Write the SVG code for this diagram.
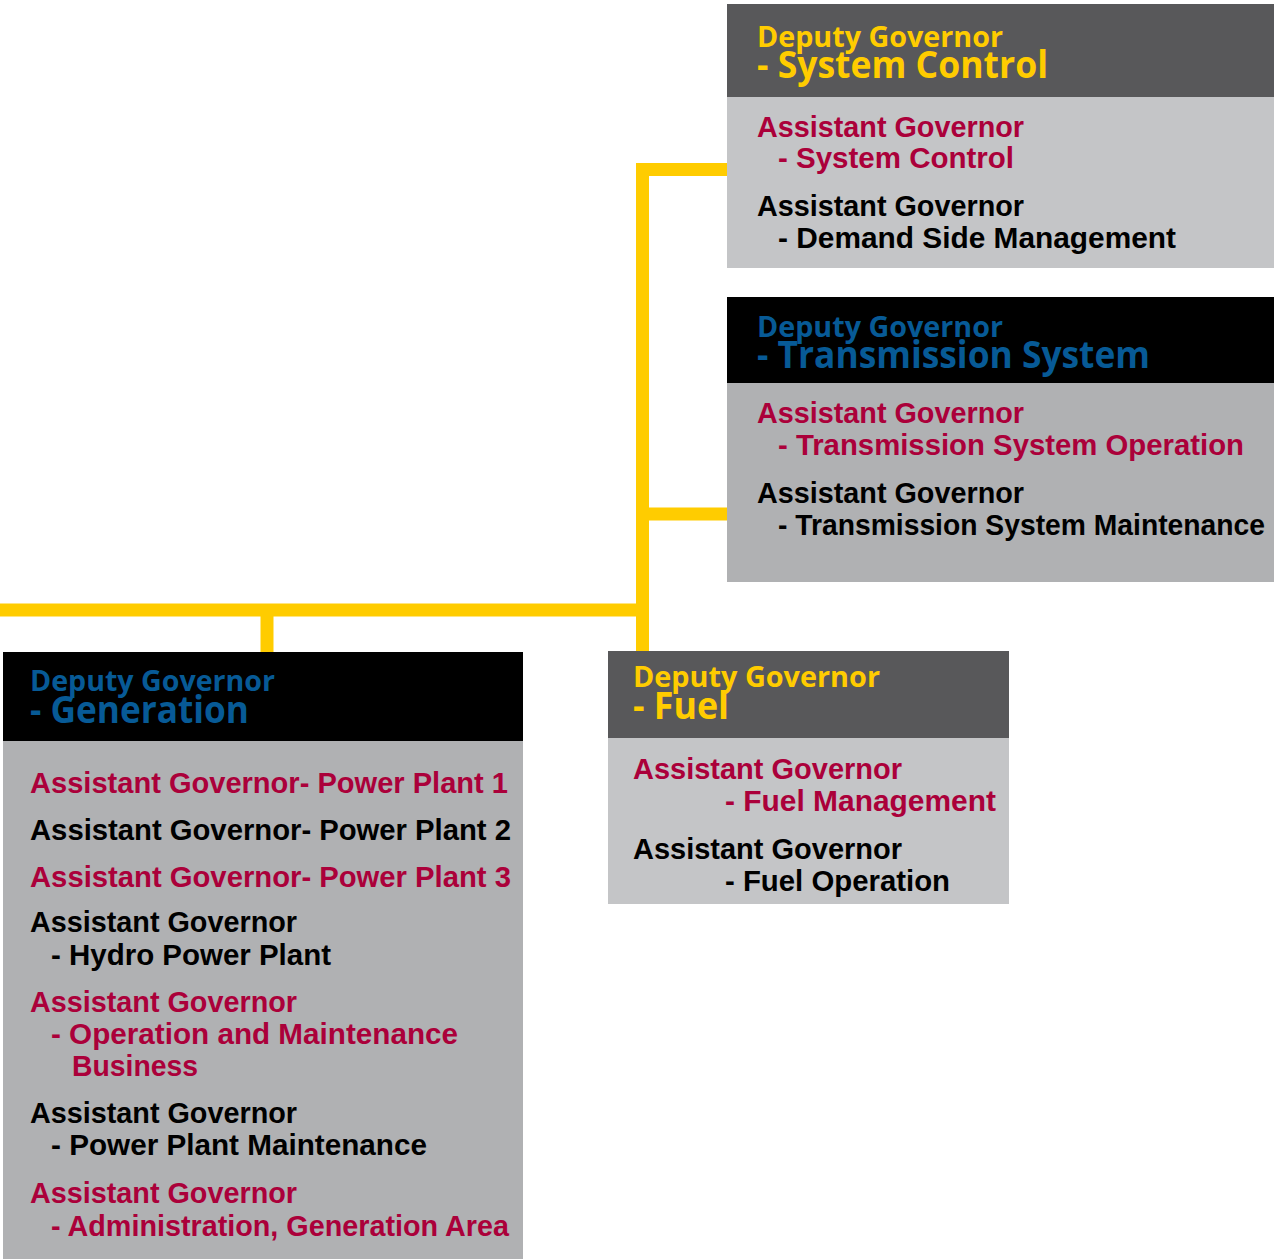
<svg xmlns="http://www.w3.org/2000/svg" width="1274" height="1259" viewBox="0 0 1274 1259">
<style>
.conn{fill:none;stroke:#ffcc00;stroke-width:13;stroke-linejoin:miter;stroke-linecap:butt}
.hdrDark{fill:#58585a}
.hdrBlack{fill:#000}
.bodyLight{fill:#c4c5c7}
.bodyMid{fill:#b0b1b3}
.dg{font-family:"Open Sans","DejaVu Sans",sans-serif;font-weight:bold;font-size:29px}
.dgBig{font-family:"Open Sans","DejaVu Sans",sans-serif;font-weight:bold;font-size:37px}
.yel{fill:#ffcc00}
.blu{fill:#075a96}
.ag{font-family:"Liberation Sans",Arial,sans-serif;font-weight:bold;font-size:29px}
.red{fill:#ab003a}
.blk{fill:#000}
</style>
<rect width="1274" height="1259" fill="#fff"/>
<g id="connectors">
<path class="conn" d="M727,169.5 H642.5 V652"/>
<path class="conn" d="M642.5,514 H727"/>
<path class="conn" d="M0,610 H642.5"/>
<path class="conn" d="M267,610 V652"/>
</g>
<g id="node-system-control">
<rect class="hdrDark" x="727" y="4" width="547" height="93"/>
<rect class="bodyLight" x="727" y="97" width="547" height="171"/>
<text class="dg yel" x="757" y="47" textLength="246" lengthAdjust="spacingAndGlyphs">Deputy Governor</text>
<text class="dgBig yel" x="757" y="78" textLength="291" lengthAdjust="spacingAndGlyphs">- System Control</text>
<text class="ag red" x="757" y="137" textLength="267" lengthAdjust="spacingAndGlyphs">Assistant Governor</text>
<text class="ag red" x="778" y="168" textLength="236" lengthAdjust="spacingAndGlyphs">- System Control</text>
<text class="ag blk" x="757" y="216" textLength="267" lengthAdjust="spacingAndGlyphs">Assistant Governor</text>
<text class="ag blk" x="778" y="248" textLength="398" lengthAdjust="spacingAndGlyphs">- Demand Side Management</text>
</g>
<g id="node-transmission-system">
<rect class="hdrBlack" x="727" y="297" width="547" height="86"/>
<rect class="bodyMid" x="727" y="383" width="547" height="199"/>
<text class="dg blu" x="757" y="337" textLength="246" lengthAdjust="spacingAndGlyphs">Deputy Governor</text>
<text class="dgBig blu" x="757" y="368" textLength="393" lengthAdjust="spacingAndGlyphs">- Transmission System</text>
<text class="ag red" x="757" y="423" textLength="267" lengthAdjust="spacingAndGlyphs">Assistant Governor</text>
<text class="ag red" x="778" y="455" textLength="466" lengthAdjust="spacingAndGlyphs">- Transmission System Operation</text>
<text class="ag blk" x="757" y="503" textLength="267" lengthAdjust="spacingAndGlyphs">Assistant Governor</text>
<text class="ag blk" x="778" y="535" textLength="487" lengthAdjust="spacingAndGlyphs">- Transmission System Maintenance</text>
</g>
<g id="node-generation">
<rect class="hdrBlack" x="3" y="652" width="520" height="89"/>
<rect class="bodyMid" x="3" y="741" width="520" height="518"/>
<text class="dg blu" x="30" y="691" textLength="245" lengthAdjust="spacingAndGlyphs">Deputy Governor</text>
<text class="dgBig blu" x="30" y="723" textLength="219" lengthAdjust="spacingAndGlyphs">- Generation</text>
<text class="ag red" x="30" y="793" textLength="478" lengthAdjust="spacingAndGlyphs">Assistant Governor- Power Plant 1</text>
<text class="ag blk" x="30" y="840" textLength="481" lengthAdjust="spacingAndGlyphs">Assistant Governor- Power Plant 2</text>
<text class="ag red" x="30" y="887" textLength="481" lengthAdjust="spacingAndGlyphs">Assistant Governor- Power Plant 3</text>
<text class="ag blk" x="30" y="932" textLength="267" lengthAdjust="spacingAndGlyphs">Assistant Governor</text>
<text class="ag blk" x="51" y="965" textLength="280" lengthAdjust="spacingAndGlyphs">- Hydro Power Plant</text>
<text class="ag red" x="30" y="1012" textLength="267" lengthAdjust="spacingAndGlyphs">Assistant Governor</text>
<text class="ag red" x="51" y="1044" textLength="407" lengthAdjust="spacingAndGlyphs">- Operation and Maintenance</text>
<text class="ag red" x="72" y="1076" textLength="126" lengthAdjust="spacingAndGlyphs">Business</text>
<text class="ag blk" x="30" y="1123" textLength="267" lengthAdjust="spacingAndGlyphs">Assistant Governor</text>
<text class="ag blk" x="51" y="1155" textLength="376" lengthAdjust="spacingAndGlyphs">- Power Plant Maintenance</text>
<text class="ag red" x="30" y="1203" textLength="267" lengthAdjust="spacingAndGlyphs">Assistant Governor</text>
<text class="ag red" x="51" y="1236" textLength="458" lengthAdjust="spacingAndGlyphs">- Administration, Generation Area</text>
</g>
<g id="node-fuel">
<rect class="hdrDark" x="608" y="651" width="401" height="87"/>
<rect class="bodyLight" x="608" y="738" width="401" height="166"/>
<text class="dg yel" x="633" y="687" textLength="247" lengthAdjust="spacingAndGlyphs">Deputy Governor</text>
<text class="dgBig yel" x="633" y="719" textLength="96" lengthAdjust="spacingAndGlyphs">- Fuel</text>
<text class="ag red" x="633" y="779" textLength="269" lengthAdjust="spacingAndGlyphs">Assistant Governor</text>
<text class="ag red" x="725" y="811" textLength="271" lengthAdjust="spacingAndGlyphs">- Fuel Management</text>
<text class="ag blk" x="633" y="859" textLength="269" lengthAdjust="spacingAndGlyphs">Assistant Governor</text>
<text class="ag blk" x="725" y="891" textLength="225" lengthAdjust="spacingAndGlyphs">- Fuel Operation</text>
</g>
</svg>
